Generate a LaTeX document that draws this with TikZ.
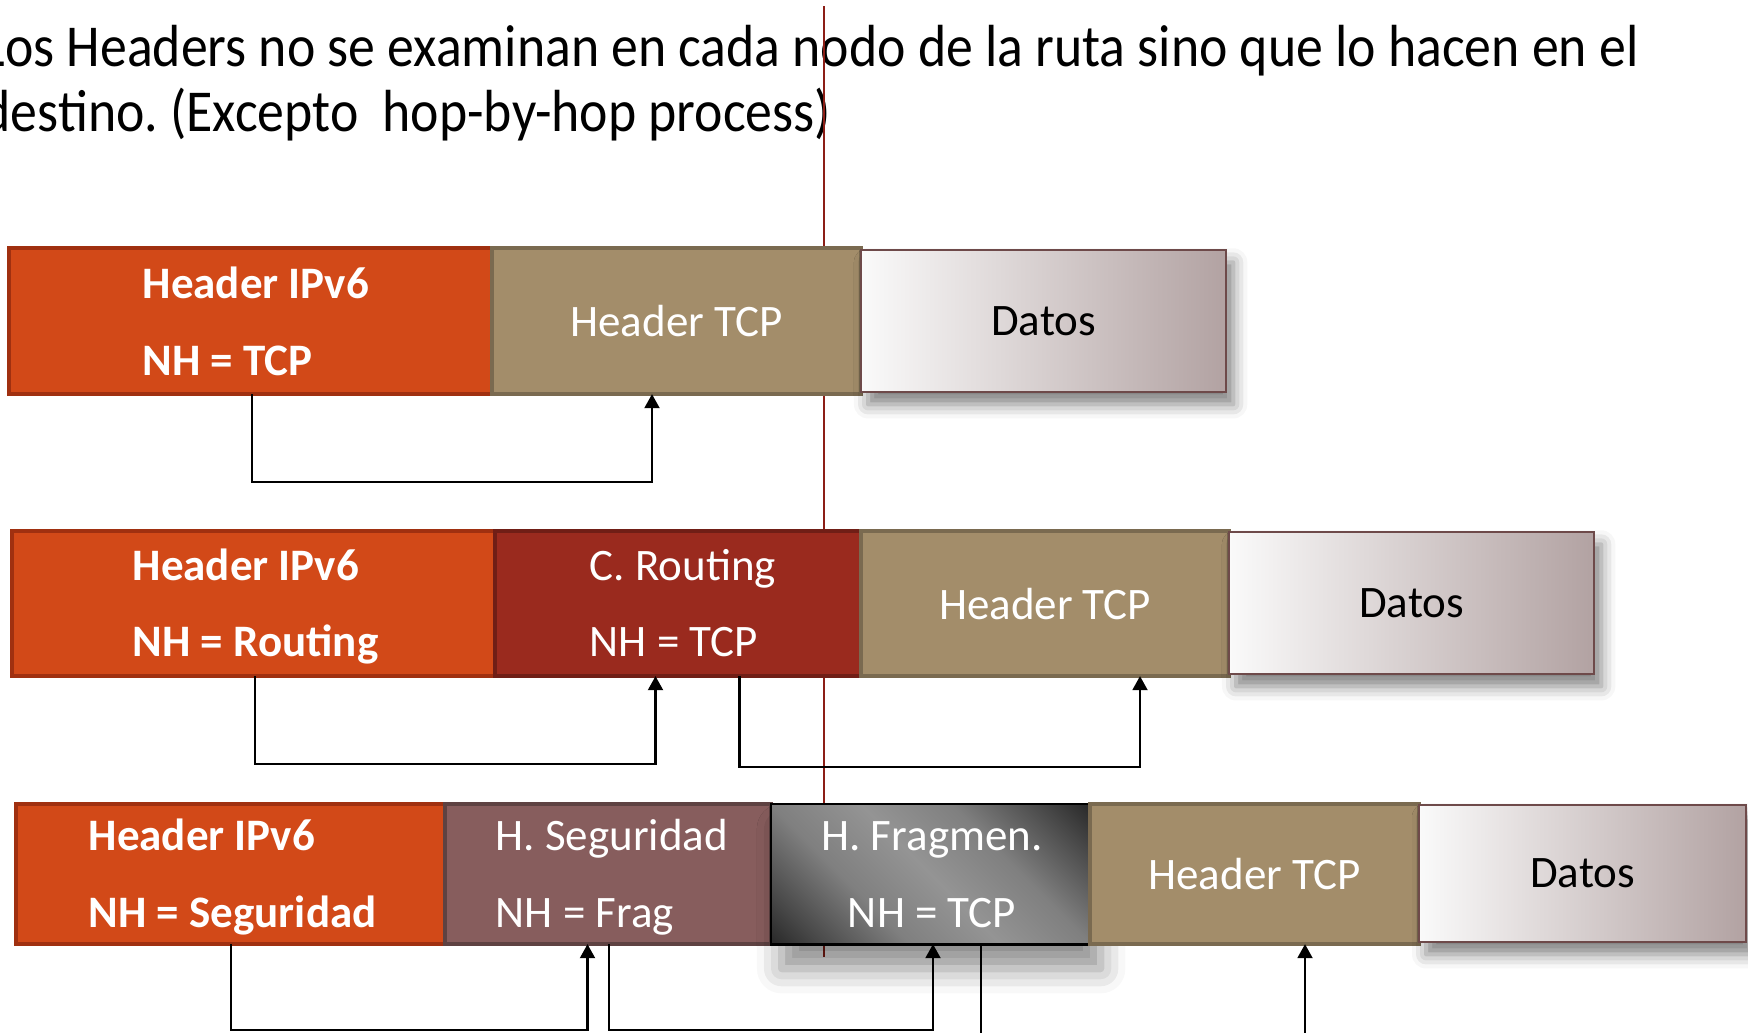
\documentclass[tikz,border=0pt]{standalone}
\usepackage{fontspec}
\setmainfont{Carlito}
\newfontfamily\titlefont{Carlito}[FakeStretch=0.905]
\usetikzlibrary{calc,arrows.meta,shadows.blur}
\definecolor{ipvsix}{RGB}{210,73,24}
\definecolor{ipvsixb}{RGB}{160,48,16}
\definecolor{tcpc}{RGB}{163,141,106}
\definecolor{tcpb}{RGB}{122,106,80}
\definecolor{datl}{RGB}{250,250,250}
\definecolor{datr}{RGB}{178,162,162}
\definecolor{datb}{RGB}{110,74,74}
\definecolor{routc}{RGB}{154,42,30}
\definecolor{routb}{RGB}{112,30,22}
\definecolor{seguc}{RGB}{135,93,93}
\definecolor{segub}{RGB}{94,66,66}
\definecolor{redline}{RGB}{140,30,22}
\pgfdeclarehorizontalshading{fragsh}{100bp}{color(0bp)=(black); color(8bp)=(black!95); color(22bp)=(black!72); color(36bp)=(black!50); color(50bp)=(black!42); color(64bp)=(black!50); color(78bp)=(black!72); color(92bp)=(black!95); color(100bp)=(black)}
\frenchspacing
\begin{document}
\begin{tikzpicture}[x=0.01cm,y=-0.01cm,
  titletext/.style={font=\titlefont\fontsize{16.9}{18.5}\selectfont, inner sep=0pt, anchor=base west},
  box/.style={draw, anchor=north west, inner sep=0pt, outer sep=0pt, line width=1.1pt,
    font=\fontsize{12.8}{15}\selectfont},
  ipbox/.style={box, fill=ipvsix, draw=ipvsixb},
  tcpbox/.style={box, fill=tcpc, draw=tcpb, text=white},
  datbox/.style={box, left color=datl, right color=datr, draw=datb, line width=0.6pt,
    blur shadow={shadow xshift=2pt, shadow yshift=-3.5pt, shadow blur radius=4pt, shadow opacity=50}},
  routbox/.style={box, fill=routc, draw=routb},
  segubox/.style={box, fill=seguc, draw=segub},
  fragbox/.style={box, shading=fragsh, shading angle=45, draw=black, line width=0.8pt,
    blur shadow={shadow xshift=3pt, shadow yshift=-7pt, shadow blur radius=7pt, shadow opacity=45}},
  wlbl/.style={text=white, inner sep=0pt, anchor=base west, font=\fontsize{12.8}{15}\selectfont},
  blbl/.style={wlbl, font=\fontsize{12.8}{15}\selectfont\bfseries},
  clbl/.style={wlbl, anchor=base},
  conn/.style={draw=black, line width=0.75pt, -{Triangle[length=4pt,width=4.2pt]}},
  plain/.style={draw=black, line width=0.75pt}]
\useasboundingbox (0,0) rectangle (1748,1032);
\clip (0,0) rectangle (1748,1032);
% title
\node[titletext] (title1) at (-18,66.7) {Los Headers no se examinan en cada nodo de la ruta sino que lo hacen en el};
\node[titletext] (title2) at (-18,131.7) {destino. (Excepto\ \ hop-by-hop process)};
% vertical line
\coordinate (vtop) at (824,6);
\coordinate (vbot) at (824,957);
\draw[redline, line width=0.45pt] (vtop) -- (vbot);
% row 1
\node[ipbox, minimum width=4.83cm, minimum height=1.46cm] (b1a) at (9,248) {};
\node[tcpbox, minimum width=3.69cm, minimum height=1.46cm] (b1b) at (492,248) {Header TCP};
\node[datbox, minimum width=3.65cm, minimum height=1.42cm] (b1c) at (861,250) {Datos};
\node[blbl] (l1a1) at (142,298) {Header IPv6};
\node[blbl] (l1a2) at (142,375) {NH = TCP};
% row 2
\node[ipbox, minimum width=4.83cm, minimum height=1.45cm] (b2a) at (12,531) {};
\node[routbox, minimum width=3.66cm, minimum height=1.45cm] (b2b) at (495,531) {};
\node[tcpbox, minimum width=3.68cm, minimum height=1.45cm] (b2c) at (861,531) {Header TCP};
\node[datbox, minimum width=3.65cm, minimum height=1.42cm] (b2d) at (1229,532) {Datos};
\node[blbl] (l2a1) at (132,580) {Header IPv6};
\node[blbl] (l2a2) at (132,656) {NH = Routing};
\node[wlbl] (l2b1) at (589,580) {C. Routing};
\node[wlbl] (l2b2) at (589,656) {NH = TCP};
% row 3
\node[ipbox, minimum width=4.29cm, minimum height=1.40cm] (b3a) at (16,804) {};
\node[segubox, minimum width=3.26cm, minimum height=1.40cm] (b3b) at (445,804) {};
\node[fragbox, minimum width=3.19cm, minimum height=1.40cm] (b3c) at (771,804) {};
\node[tcpbox, minimum width=3.29cm, minimum height=1.40cm] (b3d) at (1090,804) {Header TCP};
\node[datbox, minimum width=3.27cm, minimum height=1.37cm] (b3e) at (1419,805) {Datos};
\node[blbl] (l3a1) at (88,850) {Header IPv6};
\node[blbl] (l3a2) at (88,927) {NH = Seguridad};
\node[wlbl] (l3b1) at (495,850) {H. Seguridad};
\node[wlbl] (l3b2) at (495,927) {NH = Frag};
\node[clbl] (l3c1) at (932,850) {H. Fragmen.};
\node[clbl] (l3c2) at (932,927) {NH = TCP};
% connectors
\draw[conn] ($(b1a.south west)+(243,0)$) -- ++(0,88) -| ($(b1b.south west)+(160,0)$);
\draw[conn] ($(b2a.south west)+(243,0)$) -- ++(0,88) -| ($(b2b.south west)+(160.5,0)$);
\draw[conn] ($(b2b.south west)+(244.5,0)$) -- ++(0,91) -| ($(b2c.south west)+(279,0)$);
\draw[conn] ($(b3a.south west)+(215,0)$) -- ++(0,86) -| ($(b3b.south west)+(142.5,0)$);
\draw[conn] ($(b3b.south west)+(164,0)$) -- ++(0,86) -| ($(b3c.south west)+(162,0)$);
\coordinate (endc) at (981,1045);
\coordinate (endd) at (1305,1045);
\draw[plain] ($(b3c.south west)+(210,0)$) -- (endc);
\draw[conn] (endd) -- ($(b3d.south west)+(215,0)$);
\end{tikzpicture}
\end{document}
